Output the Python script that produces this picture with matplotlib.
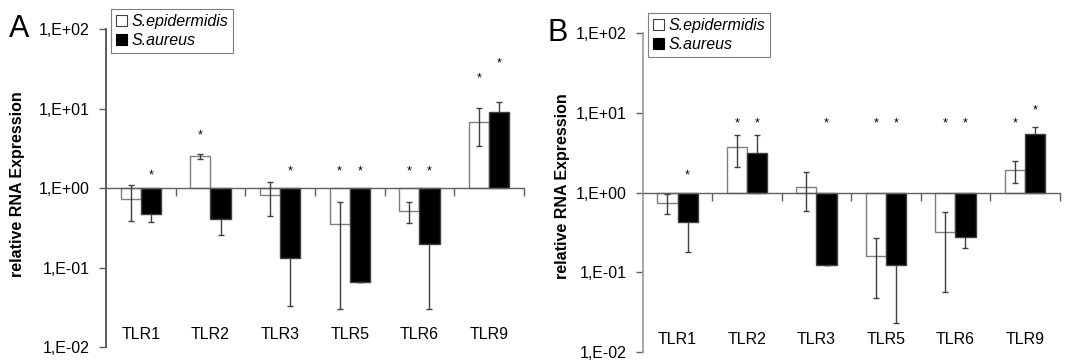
import numpy as np
import matplotlib.pyplot as plt
from matplotlib.ticker import FixedLocator, FuncFormatter, NullLocator
from matplotlib.patches import Patch

plt.rcParams['font.family'] = ['Liberation Sans', 'DejaVu Sans']

genes = ['TLR1', 'TLR2', 'TLR3', 'TLR5', 'TLR6', 'TLR9']
series = ['S.epidermidis', 'S.aureus']

# panel A
a_epi = [0.73, 2.5, 0.82, 0.35, 0.51, 6.8]
a_epi_err = [0.35, 0.2, 0.37, 0.32, 0.15, 3.4]
a_aur = [0.47, 0.41, 0.13, 0.066, 0.20, 9.0]
a_aur_err = [0.1, 0.15, 0.097, 0.0, 0.17, 3.0]
a_epi_star = [None, 4.6, None, 1.64, 1.64, 24]
a_aur_star = [1.43, None, 1.64, 1.64, 1.64, 37]

# panel B
b_epi = [0.75, 3.7, 1.19, 0.158, 0.316, 1.9]
b_epi_err = [0.21, 1.58, 0.6, 0.11, 0.26, 0.57]
b_aur = [0.43, 3.15, 0.123, 0.123, 0.28, 5.35]
b_aur_err = [0.25, 2.15, 0.0, 0.1, 0.08, 1.3]
b_epi_star = [None, 7.4, None, 7.3, 7.3, 7.3]
b_aur_star = [1.63, 7.4, 7.3, 7.3, 7.3, 10.6]

fig = plt.figure(figsize=(10.66, 3.63), dpi=100)


def panel(rect, letter, letter_x, letter_y, ylab_x, ylab_y, epi, epi_err, aur, aur_err, epi_star, aur_star,
          spine_col):
    ax = fig.add_axes(rect)
    x = np.arange(len(genes))
    w = 0.29
    epi = np.array(epi)
    aur = np.array(aur)
    ax.bar(x - w / 2, epi - 1, w, bottom=1, color='white', edgecolor='#7f7f7f', linewidth=1.0, zorder=2)
    ax.bar(x + w / 2, aur - 1, w, bottom=1, color='black', edgecolor='#404040', linewidth=1.0, zorder=2)
    ax.errorbar(x - w / 2, epi, yerr=epi_err, fmt='none', ecolor='#404040', elinewidth=1.0,
                capsize=2, capthick=1.0, zorder=3)
    ax.errorbar(x + w / 2, aur, yerr=aur_err, fmt='none', ecolor='#404040', elinewidth=1.0,
                capsize=2, capthick=1.0, zorder=1)
    for i in range(len(genes)):
        if epi_star[i]:
            ax.text(x[i] - w / 2, epi_star[i], '*', ha='center', va='center', fontsize=9)
        if aur_star[i]:
            ax.text(x[i] + w / 2, aur_star[i], '*', ha='center', va='center', fontsize=9)
        ax.text(x[i], 0.038, genes[i], transform=ax.get_xaxis_transform(),
                ha='center', va='center', fontsize=11.5)

    ax.set_yscale('log')
    ax.set_ylim(0.01, 100)
    ax.set_xlim(-0.5, len(genes) - 0.5)
    ax.yaxis.set_major_locator(FixedLocator([0.01, 0.1, 1, 10, 100]))
    ax.yaxis.set_minor_locator(NullLocator())
    ax.yaxis.set_major_formatter(FuncFormatter(lambda v, p: '1,E%+03d' % int(round(np.log10(v)))))
    ax.tick_params(axis='y', labelsize=11.5, length=5, width=1, color='#606060', pad=6.5)

    ax.spines['top'].set_visible(False)
    ax.spines['right'].set_visible(False)
    ax.spines['left'].set_color(spine_col)
    ax.spines['left'].set_linewidth(1.3)
    ax.spines['bottom'].set_position(('data', 1))
    ax.spines['bottom'].set_color('#606060')
    ax.spines['bottom'].set_linewidth(1.0)
    ax.set_xticks(x + 0.5)
    ax.set_xticklabels([])
    ax.tick_params(axis='x', direction='out', length=6, width=1, color='#606060')

    handles = [Patch(facecolor='white', edgecolor='#404040', linewidth=0.8),
               Patch(facecolor='black', edgecolor='black', linewidth=0.8)]
    leg = ax.legend(handles, series, loc='upper left', bbox_to_anchor=(0.013, 1.063), borderaxespad=0,
                    prop={'style': 'italic', 'size': 11.5}, handlelength=0.7, handleheight=0.7,
                    handletextpad=0.25, labelspacing=0.25, borderpad=0.3, fancybox=False, framealpha=1)
    leg.get_frame().set_edgecolor('#7f7f7f')
    leg.get_frame().set_linewidth(0.8)

    fig.text(letter_x, letter_y, letter, fontsize=22, ha='left', va='baseline')
    fig.text(ylab_x, ylab_y, 'relative RNA Expression', rotation=90, ha='center', va='center',
             fontsize=11.5, fontweight='bold')
    return ax


panel([0.0994, 0.044, 0.392, 0.876], 'A', 9 / 1066, 1 - 37 / 363, 18 / 1066, 1 - 184 / 363,
      a_epi, a_epi_err, a_aur, a_aur_err, a_epi_star, a_aur_star, '#505050')
panel([0.603, 0.030, 0.391, 0.879], 'B', 548 / 1066, 1 - 41 / 363, 563 / 1066, 1 - 186 / 363,
      b_epi, b_epi_err, b_aur, b_aur_err, b_epi_star, b_aur_star, '#a0a0a0')

plt.savefig('out.png', dpi=100)
